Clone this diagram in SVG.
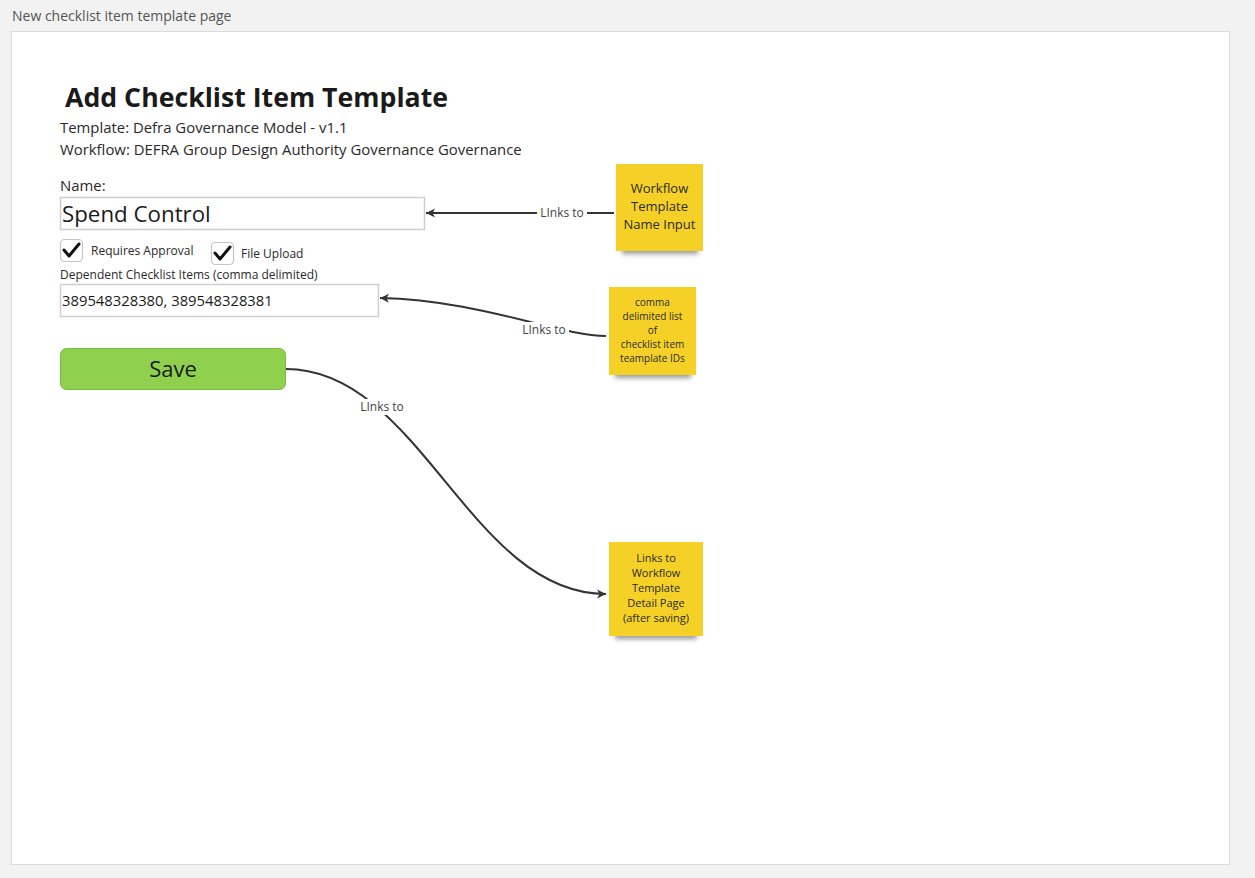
<svg xmlns="http://www.w3.org/2000/svg" width="1255" height="878" viewBox="0 0 1255 878">
<style>
text{font-family:"Open Sans","Noto Sans","Liberation Sans",sans-serif;fill:#222}
.lbl{font-size:14.9px;fill:#2a2a2a}
.small{font-size:12px;fill:#2a2a2a}
.input{fill:#fff;stroke:#cfcfcf;stroke-width:1.5}
.cb{fill:#fff;stroke:#c4c4c4;stroke-width:1.2}
.tick{fill:none;stroke:#111;stroke-width:3;stroke-linecap:round;stroke-linejoin:round}
.sticky{fill:#f5d128}
.st{text-anchor:middle;fill:#2b2b2b}
.conn{fill:none;stroke:#333;stroke-width:2}
.cl{font-size:12px;fill:#444;text-anchor:middle}
</style>
<defs>
<marker id="ah" viewBox="0 0 12 12" refX="10" refY="6" markerWidth="12" markerHeight="12" orient="auto" markerUnits="userSpaceOnUse">
<path d="M1,1.5 L10,6 L1,10.5 L3.5,6 Z" fill="#333"/>
</marker>
<filter id="sh" x="-20%" y="-100%" width="140%" height="300%">
<feGaussianBlur stdDeviation="2.5"/>
</filter>
</defs>
<rect x="0" y="0" width="1255" height="878" fill="#f2f2f2"/>
<text x="12" y="21" style="font-size:14px;fill:#555">New checklist item template page</text>
<rect x="11.5" y="31.5" width="1218" height="833" fill="#fff" stroke="#dcdcdc"/>

<g id="header">
<text x="65" y="107" style="font-size:26.7px;font-weight:bold;fill:#1a1a1a">Add Checklist Item Template</text>
<text x="60" y="133" class="lbl">Template: Defra Governance Model - v1.1</text>
<text x="60" y="155" class="lbl">Workflow: DEFRA Group Design Authority Governance Governance</text>
</g>

<g id="name-field">
<text x="60" y="191" class="lbl">Name:</text>
<rect x="60.5" y="197.5" width="364" height="32" class="input"/>
<text x="62" y="222" style="font-size:22.3px;fill:#1a1a1a">Spend Control</text>
</g>

<g id="requires-approval">
<rect x="60.5" y="239.5" width="22" height="22" rx="4" class="cb"/>
<path d="M64,250 L69,256 L79,244" class="tick"/>
<text x="91" y="255" class="small">Requires Approval</text>
</g>

<g id="file-upload">
<rect x="211.5" y="242.5" width="22" height="22" rx="4" class="cb"/>
<path d="M215,253 L220,259 L230,247" class="tick"/>
<text x="241" y="258" class="small">File Upload</text>
</g>

<g id="dependent-field">
<text x="60" y="279" class="small">Dependent Checklist Items (comma delimited)</text>
<rect x="60.5" y="284.5" width="318" height="32" class="input"/>
<text x="62" y="306" style="font-size:14.8px;fill:#1a1a1a">389548328380, 389548328381</text>
</g>

<g id="save-button">
<rect x="60.5" y="348.5" width="225" height="41" rx="6" fill="#8fd14f" stroke="#7cb842"/>
<text x="173" y="377" style="font-size:22px;fill:#1a1a1a;text-anchor:middle">Save</text>
</g>

<g id="connectors">
<path d="M614,213 L426,213" class="conn" marker-end="url(#ah)"/>
<rect x="537" y="205" width="50" height="16" fill="#fff"/>
<text x="562" y="217" class="cl">LInks to</text>

<path d="M606,336 C560,336 480,300 380,298" class="conn" marker-end="url(#ah)"/>
<rect x="519" y="322" width="50" height="16" fill="#fff"/>
<text x="544" y="334" class="cl">LInks to</text>

<path d="M286,369 C420,369 470,594 606,594" class="conn" marker-end="url(#ah)"/>
<rect x="357" y="399" width="50" height="16" fill="#fff"/>
<text x="382" y="411" class="cl">LInks to</text>
</g>

<g id="sticky-name">
<rect x="622" y="246" width="76" height="8" fill="#555" opacity="0.6" filter="url(#sh)"/>
<rect x="616" y="164" width="87" height="87" class="sticky"/>
<text class="st" style="font-size:13px"><tspan x="659.5" y="193">Workflow</tspan><tspan x="659.5" y="211">Template</tspan><tspan x="659.5" y="229">Name Input</tspan></text>
</g>

<g id="sticky-dependent">
<rect x="615" y="370" width="76" height="8" fill="#555" opacity="0.6" filter="url(#sh)"/>
<rect x="609" y="287" width="87" height="88" class="sticky"/>
<text class="st" style="font-size:10px"><tspan x="652.5" y="306">comma</tspan><tspan x="652.5" y="320">delimited list</tspan><tspan x="652.5" y="334">of</tspan><tspan x="652.5" y="348">checklist item</tspan><tspan x="652.5" y="362">teamplate IDs</tspan></text>
</g>

<g id="sticky-save">
<rect x="615" y="631" width="82" height="8" fill="#555" opacity="0.6" filter="url(#sh)"/>
<rect x="609" y="542" width="94" height="94" class="sticky"/>
<text class="st" style="font-size:11px"><tspan x="656" y="562">Links to</tspan><tspan x="656" y="577">Workflow</tspan><tspan x="656" y="592">Template</tspan><tspan x="656" y="607">Detail Page</tspan><tspan x="656" y="622">(after saving)</tspan></text>
</g>
</svg>
